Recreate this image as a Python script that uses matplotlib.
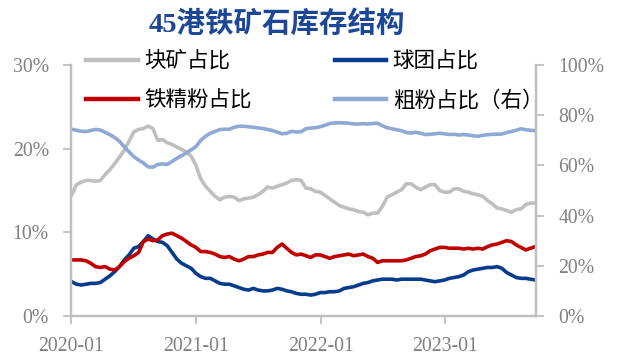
import matplotlib
matplotlib.use("Agg")
import matplotlib.pyplot as plt
import matplotlib.dates as mdates
from matplotlib.ticker import PercentFormatter, MultipleLocator
import pandas as pd

# Biweekly share of each ore type in inventory at 45 ports (%)
dates = pd.date_range("2020-01-03", periods=98, freq="14D")

lump_share = [
    14.5, 15.7, 16.0, 16.2, 16.2, 16.1, 16.2, 16.9, 17.5, 18.2,
    19.0, 19.8, 20.9, 22.0, 22.3, 22.4, 22.7, 22.4, 21.0, 21.1,
    20.7, 20.5, 20.2, 19.9, 19.6, 19.1, 18.0, 16.4, 15.5, 14.9,
    14.3, 13.9, 14.2, 14.3, 14.2, 13.8, 14.0, 14.1, 14.2, 14.5,
    14.9, 15.4, 15.3, 15.5, 15.7, 15.9, 16.2, 16.3, 16.2, 15.3,
    15.2, 14.9, 14.8, 14.4, 14.0, 13.6, 13.2, 13.0, 12.8, 12.7,
    12.5, 12.4, 12.1, 12.3, 12.3, 13.1, 14.2, 14.5, 14.8, 15.1,
    15.8, 15.8, 15.4, 15.1, 15.4, 15.7, 15.7, 15.0, 14.8, 14.8,
    15.2, 15.2, 14.9, 14.8, 14.6, 14.5, 14.3, 13.8, 13.4, 12.9,
    12.8, 12.6, 12.4, 12.7, 12.8, 13.3, 13.5, 13.5,
]

pellet_share = [
    4.1, 3.8, 3.7, 3.8, 3.9, 3.9, 4.0, 4.4, 4.8, 5.3,
    5.9, 6.7, 7.3, 8.1, 8.3, 8.9, 9.6, 9.2, 8.9, 8.8,
    8.4, 7.6, 6.8, 6.3, 6.0, 5.7, 5.1, 4.7, 4.5, 4.5,
    4.2, 3.9, 3.8, 3.8, 3.6, 3.4, 3.2, 3.1, 3.3, 3.1,
    3.0, 3.0, 3.1, 3.3, 3.2, 3.0, 2.9, 2.7, 2.6, 2.6,
    2.5, 2.6, 2.8, 2.8, 2.9, 2.9, 3.0, 3.3, 3.4, 3.5,
    3.7, 3.9, 4.0, 4.2, 4.3, 4.4, 4.4, 4.4, 4.3, 4.4,
    4.4, 4.4, 4.4, 4.4, 4.3, 4.2, 4.1, 4.2, 4.3, 4.5,
    4.6, 4.7, 4.9, 5.3, 5.5, 5.6, 5.7, 5.8, 5.8, 5.9,
    5.7, 5.2, 4.9, 4.6, 4.5, 4.5, 4.4, 4.3,
]

concentrate_share = [
    6.7, 6.7, 6.7, 6.6, 6.3, 5.9, 5.8, 5.9, 5.6, 5.5,
    5.9, 6.5, 6.9, 7.2, 7.6, 8.9, 9.2, 9.0, 9.1, 9.6,
    9.8, 9.9, 9.6, 9.3, 8.9, 8.5, 8.2, 7.7, 7.7, 7.6,
    7.4, 7.1, 7.0, 7.1, 6.8, 6.6, 6.8, 7.1, 7.1, 7.3,
    7.4, 7.6, 7.6, 8.2, 8.6, 8.1, 7.6, 7.3, 7.4, 7.2,
    7.0, 7.3, 7.3, 7.1, 6.9, 7.1, 7.2, 7.3, 7.4, 7.2,
    7.3, 7.4, 7.1, 6.9, 6.4, 6.6, 6.6, 6.6, 6.6, 6.6,
    6.7, 6.9, 7.1, 7.2, 7.4, 7.8, 8.0, 8.2, 8.2, 8.1,
    8.1, 8.1, 8.0, 8.1, 8.0, 8.1, 8.0, 8.3, 8.5, 8.6,
    8.8, 9.0, 8.9, 8.5, 8.2, 7.9, 8.1, 8.3,
]

fines_share = [
    74.4, 74.0, 73.6, 73.5, 73.9, 74.3, 74.1, 73.2, 72.2, 71.1,
    69.6, 67.4, 65.4, 63.5, 62.1, 61.0, 59.4, 59.3, 60.4, 60.6,
    60.4, 61.6, 62.8, 63.9, 65.0, 66.2, 67.5, 70.0, 71.6, 72.8,
    73.5, 74.3, 74.4, 74.4, 75.2, 75.6, 75.6, 75.4, 75.2, 74.9,
    74.7, 74.3, 73.9, 73.2, 72.6, 72.8, 73.6, 73.3, 73.4, 74.6,
    74.9, 75.0, 75.4, 76.0, 76.7, 76.9, 77.0, 76.9, 76.8, 76.5,
    76.5, 76.6, 76.5, 76.7, 76.8, 75.8, 75.0, 74.6, 74.2, 73.8,
    73.1, 72.9, 73.2, 72.8, 72.3, 72.4, 72.6, 72.8, 72.6, 72.3,
    72.4, 72.1, 72.3, 72.1, 71.8, 71.6, 72.0, 72.2, 72.4, 72.4,
    72.5, 73.1, 73.5, 74.0, 74.6, 74.2, 74.0, 73.8,
]

series_labels = ["块矿占比", "球团占比", "铁精粉占比", "粗粉占比（右）"]
title_text = "45港铁矿石库存结构"

c_lump = "#BFBFBF"
c_pellet = "#073B8C"
c_conc = "#C00000"
c_fines = "#8EA9D3"
axis_grey = "#BFBFBF"
tick_grey = "#808080"

tick_font = {"family": "Liberation Serif", "size": 14.2, "color": tick_grey}

fig = plt.figure(figsize=(6.17, 3.55), dpi=100)
ax = fig.add_axes([71 / 617, 1 - 316 / 355, (536 - 71) / 617, (316 - 65) / 355])
ax2 = ax.twinx()

lw = 2.6
l_lump, = ax.plot(dates, lump_share, color=c_lump, lw=lw)
l_pellet, = ax.plot(dates, pellet_share, color=c_pellet, lw=lw)
l_conc, = ax.plot(dates, concentrate_share, color=c_conc, lw=lw)
l_fines, = ax2.plot(dates, fines_share, color=c_fines, lw=lw)

ax.set_xlim(pd.Timestamp("2020-01-01"), pd.Timestamp("2023-09-24"))
ax.set_ylim(0, 30)
ax2.set_ylim(0, 100)

ax.yaxis.set_major_locator(MultipleLocator(10))
ax2.yaxis.set_major_locator(MultipleLocator(20))
ax.yaxis.set_major_formatter(PercentFormatter(decimals=0))
ax2.yaxis.set_major_formatter(PercentFormatter(decimals=0))
ax.xaxis.set_major_locator(mdates.YearLocator())
ax.xaxis.set_major_formatter(mdates.DateFormatter("%Y-%m"))

for a in (ax, ax2):
    a.spines["top"].set_visible(False)
    for s in ("left", "right", "bottom"):
        a.spines[s].set_color(axis_grey)
        a.spines[s].set_linewidth(1.6)
    a.tick_params(colors=axis_grey, width=1.3, length=6, direction="out")
    for lab in a.get_xticklabels() + a.get_yticklabels():
        lab.set_fontfamily(tick_font["family"])
        lab.set_fontsize(tick_font["size"])
        lab.set_color(tick_font["color"])

ax.tick_params(axis="x", pad=9)
ax.tick_params(axis="y", pad=10)
ax2.tick_params(axis="y", pad=10)
ax2.tick_params(axis="x", length=0)

# legend in two columns, filled column by column
leg = fig.legend(
    [l_lump, l_conc, l_pellet, l_fines],
    [series_labels[0], series_labels[2], series_labels[1], series_labels[3]],
    ncol=2, frameon=False,
    loc="upper left", bbox_to_anchor=(86 / 617, 1 - 51 / 355),
    prop={"family": ["Noto Sans CJK SC", "DejaVu Sans"], "size": 15.5},
    handlelength=2.4, handletextpad=0.3, columnspacing=3.85,
    labelspacing=0.75, borderpad=0, borderaxespad=0,
)
for h in leg.legend_handles:
    h.set_linewidth(3.2)
for t in leg.get_texts():
    t.set_color("#000000")

fig.text(277 / 617, 1 - 24 / 355, title_text,
         family=["Liberation Serif", "Noto Sans CJK SC"], weight="bold",
         size=20.5, color="#1C4796", ha="center", va="center")

fig.savefig("out.png", dpi=100)
